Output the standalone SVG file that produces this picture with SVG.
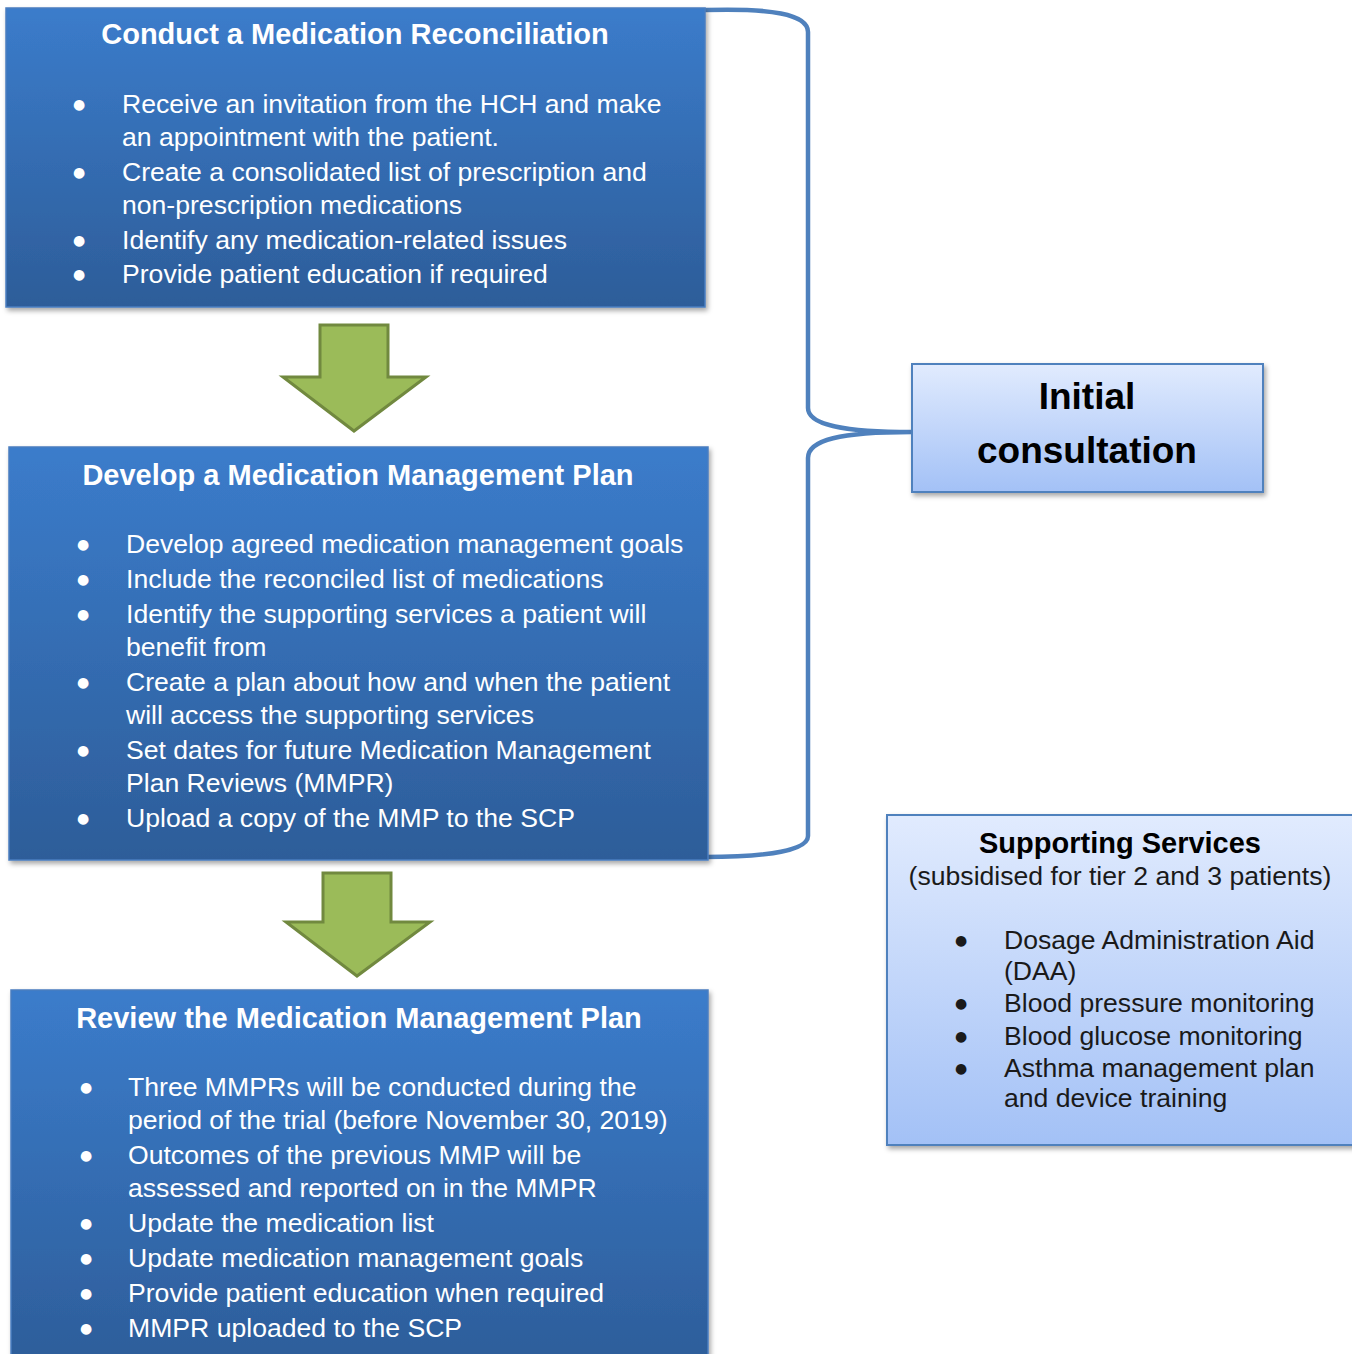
<svg xmlns="http://www.w3.org/2000/svg" width="1352" height="1354" viewBox="0 0 1352 1354">
<defs>
<linearGradient id="gDark" x1="0" y1="0" x2="0" y2="1">
<stop offset="0" stop-color="#3B7CCB"/>
<stop offset="1" stop-color="#2D5D99"/>
</linearGradient>
<linearGradient id="gLight" x1="0" y1="0" x2="0" y2="1">
<stop offset="0" stop-color="#E1EBFE"/>
<stop offset="1" stop-color="#A3C1F6"/>
</linearGradient>
<filter id="sh" x="-5%" y="-5%" width="110%" height="115%">
<feDropShadow dx="2" dy="3" stdDeviation="2.5" flood-color="#000" flood-opacity="0.35"/>
</filter>
<style>
.dark{fill:url(#gDark);stroke:#4A7EC0;stroke-width:1.5;filter:url(#sh)}
.light{fill:url(#gLight);stroke:#4F81BD;stroke-width:2;filter:url(#sh)}
.ttl{font-family:"Liberation Sans",Arial,sans-serif;font-weight:bold;font-size:29px;fill:#fff}
.wt{font-family:"Liberation Sans",Arial,sans-serif;font-size:26.6px;fill:#fff}
.bk{font-family:"Liberation Sans",Arial,sans-serif;font-size:26.6px;fill:#1a1a1a}
.b{font-family:"DejaVu Sans",sans-serif;font-size:14px}
.bkb{font-family:"Liberation Sans",Arial,sans-serif;font-weight:bold;fill:#000}
.arrow{fill:#9BBB59;stroke:#71893F;stroke-width:3}
.brace{fill:none;stroke:#4F81BD;stroke-width:4.5}
</style>
</defs>
<rect width="1352" height="1354" fill="#fff"/>

<g id="connectors">
<path class="brace" d="M705,10 C770,8 808,14 808,32 L808,408 C808,424 840,432 912,432 C840,432 808,440 808,458 L808,836 C808,850 770,857 705,857"/>
<path class="arrow" d="M320,325 L388,325 L388,377 L426,377 L354,431 L283,377 L320,377 Z"/>
<path class="arrow" d="M323,873 L391,873 L391,922 L430,922 L357,976 L286,922 L323,922 Z"/>
</g>

<g id="node-reconciliation">
<rect class="dark" x="6" y="8" width="699" height="299"/>
<text class="ttl" x="355" y="44" text-anchor="middle">Conduct a Medication Reconciliation</text>
<g class="wt">
<text class="b" x="79" y="109" text-anchor="middle">●</text><text x="122" y="113">Receive an invitation from the HCH and make</text>
<text x="122" y="146">an appointment with the patient.</text>
<text class="b" x="79" y="177" text-anchor="middle">●</text><text x="122" y="181">Create a consolidated list of prescription and</text>
<text x="122" y="214">non-prescription medications</text>
<text class="b" x="79" y="245" text-anchor="middle">●</text><text x="122" y="249">Identify any medication-related issues</text>
<text class="b" x="79" y="279" text-anchor="middle">●</text><text x="122" y="283">Provide patient education if required</text>
</g>
</g>

<g id="node-plan">
<rect class="dark" x="9" y="447" width="699" height="413"/>
<text class="ttl" x="358" y="485" text-anchor="middle">Develop a Medication Management Plan</text>
<g class="wt">
<text class="b" x="83" y="549" text-anchor="middle">●</text><text x="126" y="553">Develop agreed medication management goals</text>
<text class="b" x="83" y="584" text-anchor="middle">●</text><text x="126" y="588">Include the reconciled list of medications</text>
<text class="b" x="83" y="619" text-anchor="middle">●</text><text x="126" y="623">Identify the supporting services a patient will</text>
<text x="126" y="656">benefit from</text>
<text class="b" x="83" y="687" text-anchor="middle">●</text><text x="126" y="691">Create a plan about how and when the patient</text>
<text x="126" y="724">will access the supporting services</text>
<text class="b" x="83" y="755" text-anchor="middle">●</text><text x="126" y="759">Set dates for future Medication Management</text>
<text x="126" y="792">Plan Reviews (MMPR)</text>
<text class="b" x="83" y="823" text-anchor="middle">●</text><text x="126" y="827">Upload a copy of the MMP to the SCP</text>
</g>
</g>

<g id="node-review">
<rect class="dark" x="11" y="990" width="697" height="380"/>
<text class="ttl" x="359" y="1028" text-anchor="middle">Review the Medication Management Plan</text>
<g class="wt">
<text class="b" x="86" y="1092" text-anchor="middle">●</text><text x="128" y="1096">Three MMPRs will be conducted during the</text>
<text x="128" y="1129">period of the trial (before November 30, 2019)</text>
<text class="b" x="86" y="1160" text-anchor="middle">●</text><text x="128" y="1164">Outcomes of the previous MMP will be</text>
<text x="128" y="1197">assessed and reported on in the MMPR</text>
<text class="b" x="86" y="1228" text-anchor="middle">●</text><text x="128" y="1232">Update the medication list</text>
<text class="b" x="86" y="1263" text-anchor="middle">●</text><text x="128" y="1267">Update medication management goals</text>
<text class="b" x="86" y="1298" text-anchor="middle">●</text><text x="128" y="1302">Provide patient education when required</text>
<text class="b" x="86" y="1333" text-anchor="middle">●</text><text x="128" y="1337">MMPR uploaded to the SCP</text>
</g>
</g>

<g id="node-initial">
<rect class="light" x="912" y="364" width="351" height="128"/>
<text class="bkb" x="1087" y="409" text-anchor="middle" font-size="37">Initial</text>
<text class="bkb" x="1087" y="463" text-anchor="middle" font-size="37">consultation</text>
</g>

<g id="node-supporting">
<rect class="light" x="887" y="815" width="475" height="330"/>
<text class="bkb" x="1120" y="853" text-anchor="middle" font-size="29">Supporting Services</text>
<text class="bk" x="1120" y="885" text-anchor="middle">(subsidised for tier 2 and 3 patients)</text>
<g class="bk">
<text class="b" x="961" y="945" text-anchor="middle">●</text><text x="1004" y="949">Dosage Administration Aid</text>
<text x="1004" y="980">(DAA)</text>
<text class="b" x="961" y="1008" text-anchor="middle">●</text><text x="1004" y="1012">Blood pressure monitoring</text>
<text class="b" x="961" y="1041" text-anchor="middle">●</text><text x="1004" y="1045">Blood glucose monitoring</text>
<text class="b" x="961" y="1073" text-anchor="middle">●</text><text x="1004" y="1077">Asthma management plan</text>
<text x="1004" y="1107">and device training</text>
</g>
</g>
</svg>
